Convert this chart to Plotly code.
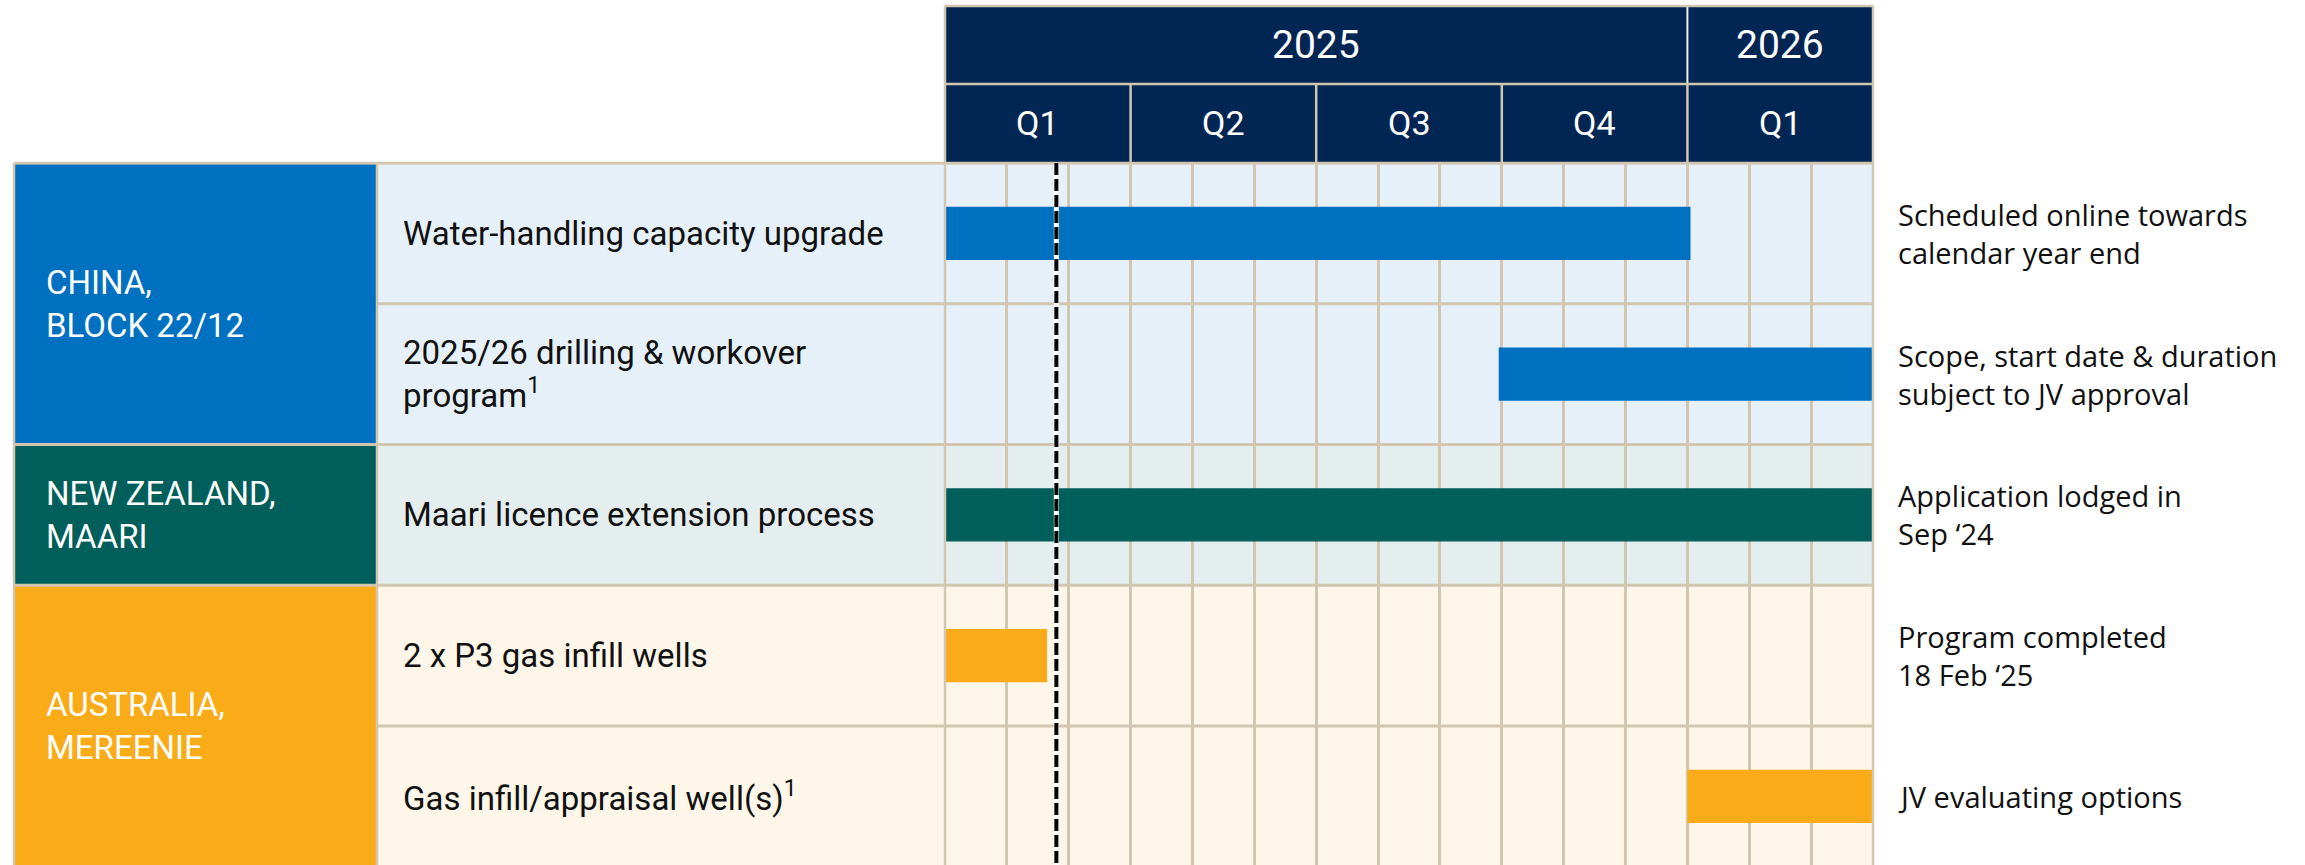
import plotly.graph_objects as go

# ---------------- data ----------------
years = ["2025", "2026"]
year_start = [0, 12]
year_end = [12, 15]

quarters = ["Q1", "Q2", "Q3", "Q4", "Q1"]
quarter_start = [0, 3, 6, 9, 12]
quarter_end = [3, 6, 9, 12, 15]

regions = ["CHINA,<br>BLOCK 22/12", "NEW ZEALAND,<br>MAARI", "AUSTRALIA,<br>MEREENIE"]
region_first_row = [0, 2, 3]
region_row_count = [2, 1, 2]

tasks = [
    "Water-handling capacity upgrade",
    "2025/26 drilling & workover<br>program<sup>1</sup>",
    "Maari licence extension process",
    "2 x P3 gas infill wells",
    "Gas infill/appraisal well(s)<sup>1</sup>",
]
task_region = [0, 0, 1, 2, 2]
start_month = [0, 8.95, 0, 0, 12]      # months from 1 Jan 2025
end_month = [12.05, 15, 15, 1.65, 15]

notes = [
    "Scheduled online towards<br>calendar year end",
    "Scope, start date & duration<br>subject to JV approval",
    "Application lodged in<br>Sep \u201824",
    "Program completed<br>18 Feb \u201825",
    "JV evaluating options",
]
today_month = 1.8
total_months = 15

# ---------------- style ----------------
region_colors = ["#0070C0", "#005E5B", "#FAAB18"]
row_bg_colors = ["#E6F0F9", "#E5EEEF", "#FEF6E9"]
NAVY = "#012653"
TAN = "#D2C6B0"

W, H = 2305, 865
L, R, T, B = 945, 1873, 163, 865      # chart body in pixels
ROW_PX = 140.75
Y_MAX = (B - T) / ROW_PX
HEAD_TOP, HEAD_MID = 6, 84
REG_X0, REG_X1 = 14, 377
TASK_TEXT_X, REG_TEXT_X, NOTE_X = 401, 44, 1896


def px_x(p):
    return (p - L) / (R - L)


def px_y(p):
    return (B - p) / (B - T)


n_rows = len(tasks)

fig = go.Figure()
fig.add_trace(go.Bar(
    orientation="h",
    y=[i + 0.5 for i in range(n_rows)],
    base=start_month,
    x=[e - s for s, e in zip(start_month, end_month)],
    width=0.38,
    marker=dict(color=[region_colors[r] for r in task_region], line=dict(width=0)),
    hoverinfo="skip",
    showlegend=False,
))

shapes = []
# row backgrounds (task column + chart)
for i in range(n_rows):
    shapes.append(dict(type="rect", layer="below", xref="paper", yref="y",
                       x0=px_x(REG_X1), x1=1, y0=i, y1=i + 1,
                       fillcolor=row_bg_colors[task_region[i]], line=dict(width=0)))
# region cells
for k in range(len(regions)):
    shapes.append(dict(type="rect", layer="below", xref="paper", yref="y",
                       x0=px_x(REG_X0), x1=px_x(REG_X1),
                       y0=region_first_row[k], y1=region_first_row[k] + region_row_count[k],
                       fillcolor=region_colors[k], line=dict(width=0)))
# header cells
for s, e in zip(year_start, year_end):
    shapes.append(dict(type="rect", layer="above", xref="x", yref="paper",
                       x0=s, x1=e, y0=px_y(HEAD_MID), y1=px_y(HEAD_TOP),
                       fillcolor=NAVY, line=dict(width=0)))
for s, e in zip(quarter_start, quarter_end):
    shapes.append(dict(type="rect", layer="above", xref="x", yref="paper",
                       x0=s, x1=e, y0=1, y1=px_y(HEAD_MID),
                       fillcolor=NAVY, line=dict(width=0)))
# header dividers
for s in year_start[1:]:
    shapes.append(dict(type="line", layer="above", xref="x", yref="paper",
                       x0=s, x1=s, y0=px_y(HEAD_MID), y1=px_y(HEAD_TOP),
                       line=dict(color="#F4F1EA", width=2)))
for s in quarter_start[1:]:
    shapes.append(dict(type="line", layer="above", xref="x", yref="paper",
                       x0=s, x1=s, y0=1, y1=px_y(HEAD_MID),
                       line=dict(color=TAN, width=2.5)))
shapes.append(dict(type="line", layer="above", xref="paper", yref="paper",
                   x0=0, x1=1, y0=px_y(HEAD_MID), y1=px_y(HEAD_MID),
                   line=dict(color=TAN, width=2.5)))
shapes.append(dict(type="line", layer="above", xref="paper", yref="paper",
                   x0=0, x1=1, y0=px_y(HEAD_TOP), y1=px_y(HEAD_TOP),
                   line=dict(color=TAN, width=2.5)))
# row separators
group_bounds = set(region_first_row)
for k in range(n_rows):
    x0 = px_x(REG_X0) if k in group_bounds else px_x(REG_X1)
    shapes.append(dict(type="line", layer="above", xref="paper", yref="y",
                       x0=x0, x1=1, y0=k, y1=k, line=dict(color=TAN, width=3)))
shapes.append(dict(type="line", layer="above", xref="paper", yref="paper",
                   x0=px_x(REG_X0), x1=1, y0=1, y1=1, line=dict(color=TAN, width=2.5)))
# vertical borders
for p, top in [(REG_X0, 1), (REG_X1, 1), (L, px_y(HEAD_TOP)), (R, px_y(HEAD_TOP))]:
    shapes.append(dict(type="line", layer="above", xref="paper", yref="paper",
                       x0=px_x(p), x1=px_x(p), y0=0, y1=top,
                       line=dict(color=TAN, width=2.5)))
# today marker
shapes.append(dict(type="line", layer="above", xref="x", yref="y",
                   x0=today_month, x1=today_month, y0=0, y1=Y_MAX,
                   line=dict(color="white", width=5)))
shapes.append(dict(type="line", layer="above", xref="x", yref="y",
                   x0=today_month, x1=today_month, y0=0, y1=Y_MAX,
                   line=dict(color="black", width=4, dash="12px,4px")))

annotations = []
for txt, s, e in zip(years, year_start, year_end):
    annotations.append(dict(text=txt, xref="x", yref="paper", x=(s + e) / 2,
                            y=px_y((HEAD_TOP + HEAD_MID) / 2), showarrow=False,
                            xanchor="center", yanchor="middle",
                            font=dict(family="Roboto", size=39, color="white")))
for txt, s, e in zip(quarters, quarter_start, quarter_end):
    annotations.append(dict(text=txt, xref="x", yref="paper", x=(s + e) / 2,
                            y=px_y((HEAD_MID + T) / 2), showarrow=False,
                            xanchor="center", yanchor="middle",
                            font=dict(family="Roboto", size=34, color="white")))
for k, txt in enumerate(regions):
    annotations.append(dict(text=txt, xref="paper", yref="y", x=px_x(REG_TEXT_X),
                            y=region_first_row[k] + region_row_count[k] / 2,
                            showarrow=False, xanchor="left", yanchor="middle", align="left",
                            font=dict(family="Roboto", size=33, color="white")))
for i, txt in enumerate(tasks):
    annotations.append(dict(text=txt, xref="paper", yref="y", x=px_x(TASK_TEXT_X), y=i + 0.5,
                            showarrow=False, xanchor="left", yanchor="middle", align="left",
                            font=dict(family="Roboto", size=33, color="#111111")))
for i, txt in enumerate(notes):
    annotations.append(dict(text=txt, xref="paper", yref="y", x=px_x(NOTE_X), y=i + 0.5,
                            showarrow=False, xanchor="left", yanchor="middle", align="left",
                            font=dict(family="Open Sans", size=29, color="#111111")))

fig.update_layout(
    width=W, height=H,
    margin=dict(l=L, r=W - R, t=T, b=H - B, pad=0),
    paper_bgcolor="white", plot_bgcolor="rgba(0,0,0,0)",
    showlegend=False,
    xaxis=dict(range=[0, total_months], tick0=0, dtick=1, showgrid=True, gridcolor=TAN,
               gridwidth=2.5, showticklabels=False, ticks="", zeroline=False, showline=False,
               fixedrange=True),
    yaxis=dict(range=[Y_MAX, 0], showgrid=False, showticklabels=False, ticks="",
               zeroline=False, showline=False, fixedrange=True),
    shapes=shapes,
    annotations=annotations,
)

fig.write_html("out.html", config=dict(displayModeBar=False),
               post_script="document.body.style.margin='0px';")
